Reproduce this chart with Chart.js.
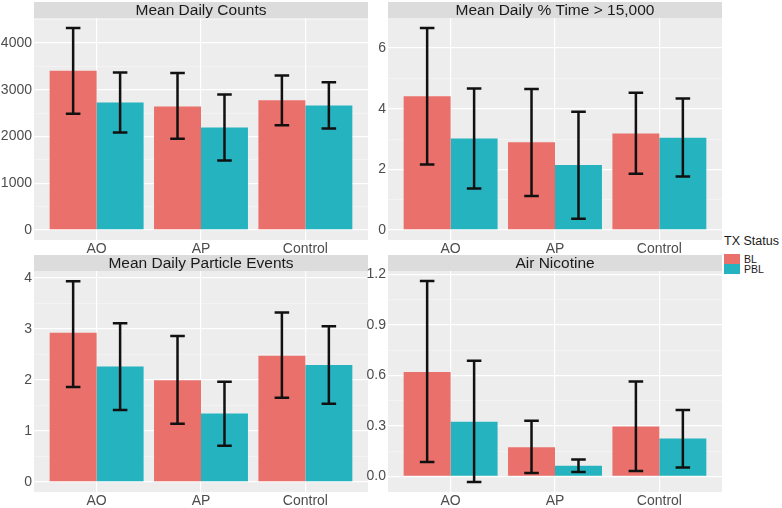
<!DOCTYPE html>
<html>
<head>
<meta charset="utf-8">
<script src="https://cdn.jsdelivr.net/npm/chart.js@4"></script>
<style>
  body { margin: 0; background: #fff; font-family: "Liberation Sans", Arial, sans-serif; }
  #wrap { position: relative; width: 782px; height: 508px; overflow: hidden; }
  canvas { position: absolute; }
  .legend-title { position: absolute; left: 724px; top: 234px; font-size: 12.5px; color: #1a1a1a; }
  .key { position: absolute; left: 724px; width: 16px; height: 10px; }
  .key-label { position: absolute; left: 744px; font-size: 10.5px; color: #1a1a1a; line-height: 10px; }
</style>
</head>
<body>
<div id="wrap">
  <canvas id="p1" width="368" height="254" style="left:0;top:2px"></canvas>
  <canvas id="p2" width="372" height="254" style="left:350px;top:2px"></canvas>
  <canvas id="p3" width="368" height="253" style="left:0;top:255px"></canvas>
  <canvas id="p4" width="372" height="253" style="left:350px;top:255px"></canvas>
  <div class="legend-title">TX Status</div>
  <div class="key" style="top:254px;background:#EA706B"></div>
  <div class="key" style="top:264px;background:#25B4BF"></div>
  <div class="key-label" style="top:254px">BL</div>
  <div class="key-label" style="top:264px">PBL</div>
</div>
<script>
// Categories and series
const categories = ["AO", "AP", "Control"];
const seriesNames = ["BL", "PBL"];

// Mean Daily Counts
const countsBL = [3407, 2643, 2778];
const countsPBL = [2729, 2193, 2664];
const countsBLErr = [[2486, 4321], [1950, 3357], [2243, 3307]];
const countsPBLErr = [[2086, 3371], [1486, 2900], [2171, 3164]];

// Mean Daily % Time > 15,000
const timeBL = [4.41, 2.89, 3.18];
const timePBL = [3.02, 2.14, 3.04];
const timeBLErr = [[2.16, 6.66], [1.12, 4.65], [1.85, 4.53]];
const timePBLErr = [[1.37, 4.67], [0.37, 3.90], [1.76, 4.34]];

// Mean Daily Particle Events
const eventsBL = [2.92, 1.99, 2.47];
const eventsPBL = [2.26, 1.34, 2.29];
const eventsBLErr = [[1.86, 3.93], [1.14, 2.86], [1.65, 3.32]];
const eventsPBLErr = [[1.41, 3.11], [0.71, 1.96], [1.53, 3.05]];

// Air Nicotine
const nicBL = [0.621, 0.173, 0.296];
const nicPBL = [0.325, 0.063, 0.225];
const nicBLErr = [[0.085, 1.161], [0.020, 0.331], [0.032, 0.564]];
const nicPBLErr = [[-0.033, 0.688], [0.026, 0.100], [0.053, 0.394]];

const colorBL = "#EA706B";
const colorPBL = "#25B4BF";

// Panel background + strip header
const stripPlugin = {
  id: "strip",
  beforeDraw(chart, args, opts) {
    const { ctx, chartArea } = chart;
    ctx.save();
    ctx.fillStyle = "#EDEDED";
    ctx.fillRect(chartArea.left, chartArea.top, chartArea.width, chartArea.height);
    ctx.fillStyle = "#DCDCDC";
    ctx.fillRect(chartArea.left, chartArea.top - 16.5, chartArea.width, 16.5);
    ctx.fillStyle = "#1A1A1A";
    ctx.font = "15.5px 'Liberation Sans', Arial, sans-serif";
    ctx.textAlign = "center";
    ctx.textBaseline = "middle";
    ctx.fillText(opts.text, (chartArea.left + chartArea.right) / 2, chartArea.top - 7.5);
    ctx.restore();
  }
};

// Error bars on top of bars
const errorBarPlugin = {
  id: "errorBars",
  afterDatasetsDraw(chart, args, opts) {
    const { ctx } = chart;
    const yScale = chart.scales.y;
    ctx.save();
    ctx.strokeStyle = "#111";
    ctx.lineWidth = 2.5;
    opts.errors.forEach((errs, d) => {
      const meta = chart.getDatasetMeta(d);
      meta.data.forEach((bar, j) => {
        const half = bar.width * 0.155;
        const yLo = yScale.getPixelForValue(errs[j][0]);
        const yHi = yScale.getPixelForValue(errs[j][1]);
        ctx.beginPath();
        ctx.moveTo(bar.x, yLo);
        ctx.lineTo(bar.x, yHi);
        ctx.moveTo(bar.x - half, yLo);
        ctx.lineTo(bar.x + half, yLo);
        ctx.moveTo(bar.x - half, yHi);
        ctx.lineTo(bar.x + half, yHi);
        ctx.stroke();
      });
    });
    ctx.restore();
  }
};

function makePanel(id, title, bl, pbl, blErr, pblErr, yMin, yMax, step, decimals, axisWidth) {
  const half = step / 2;
  new Chart(document.getElementById(id).getContext("2d"), {
    type: "bar",
    data: {
      datasets: [
        { label: seriesNames[0], data: bl.map((v, i) => ({ x: i, y: v })), backgroundColor: colorBL },
        { label: seriesNames[1], data: pbl.map((v, i) => ({ x: i, y: v })), backgroundColor: colorPBL },
      ],
    },
    options: {
      responsive: false,
      animation: false,
      devicePixelRatio: 1,
      layout: { padding: { top: 16, right: 0, left: 0, bottom: 0 } },
      datasets: { bar: { categoryPercentage: 0.9, barPercentage: 1.0, borderWidth: 0 } },
      plugins: {
        legend: { display: false },
        tooltip: { enabled: false },
        strip: { text: title },
        errorBars: { errors: [blErr, pblErr] },
      },
      scales: {
        x: {
          type: "linear",
          min: -0.6,
          max: 2.6,
          offset: false,
          afterBuildTicks: s => { s.ticks = categories.map((c, i) => ({ value: i })); },
          afterFit: s => { s.height = 16; },
          border: { display: false },
          grid: { color: "#fff", lineWidth: 1.2, drawTicks: false, offset: false },
          ticks: {
            autoSkip: false,
            maxRotation: 0,
            padding: 1,
            color: "#4D4D4D",
            font: { family: "'Liberation Sans', Arial, sans-serif", size: 14 },
            callback: v => categories[v],
          },
        },
        y: {
          min: yMin,
          max: yMax,
          afterBuildTicks: s => {
            const t = [];
            for (let k = 0; k * half <= yMax + 1e-9; k++) {
              t.push({ value: Math.round(k * half * 1000) / 1000, minor: k % 2 === 1 });
            }
            s.ticks = t;
          },
          afterFit: s => { s.width = axisWidth; },
          border: { display: false },
          grid: {
            drawTicks: false,
            color: c => (c.tick && c.tick.minor ? "rgba(255,255,255,0.55)" : "#fff"),
            lineWidth: c => (c.tick && c.tick.minor ? 0.6 : 1.2),
          },
          ticks: {
            autoSkip: false,
            padding: 2,
            color: "#4D4D4D",
            font: { family: "'Liberation Sans', Arial, sans-serif", size: 14 },
            callback: (v, i, ticks) => (ticks[i].minor ? "" : v.toFixed(decimals)),
          },
        },
      },
    },
    plugins: [stripPlugin, errorBarPlugin],
  });
}

makePanel("p1", "Mean Daily Counts", countsBL, countsPBL, countsBLErr, countsPBLErr, -216, 4537, 1000, 0, 34);
makePanel("p2", "Mean Daily % Time > 15,000", timeBL, timePBL, timeBLErr, timePBLErr, -0.333, 6.993, 2, 0, 38);
makePanel("p3", "Mean Daily Particle Events", eventsBL, eventsPBL, eventsBLErr, eventsPBLErr, -0.197, 4.131, 1, 0, 34);
makePanel("p4", "Air Nicotine", nicBL, nicPBL, nicBLErr, nicPBLErr, -0.093, 1.221, 0.3, 1, 38);
</script>
</body>
</html>
